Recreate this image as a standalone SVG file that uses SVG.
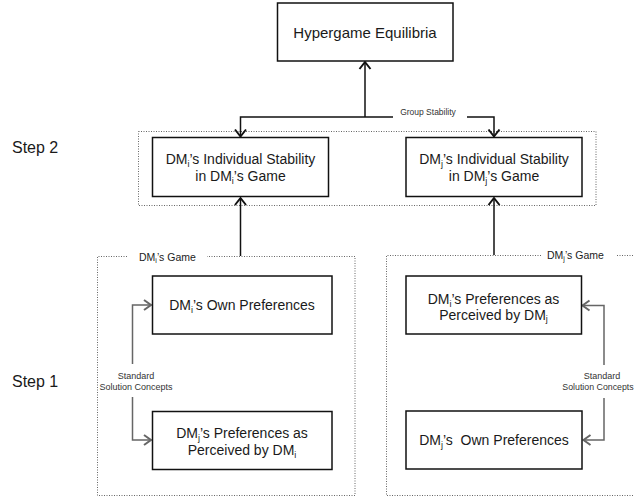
<svg xmlns="http://www.w3.org/2000/svg" width="634" height="499" viewBox="0 0 634 499">
<style>
  .box{fill:#fff;stroke:#111;stroke-width:1.5}
  .t{font-family:"Liberation Sans",Arial,sans-serif;font-size:14px;fill:#1a1a1a;text-anchor:middle}
  .sub{font-size:9px}
  .step{font-family:"Liberation Sans",Arial,sans-serif;font-size:16px;fill:#1a1a1a}
  .small{font-family:"Liberation Sans",Arial,sans-serif;font-size:8.5px;fill:#333;text-anchor:middle}
  .lbl{font-family:"Liberation Sans",Arial,sans-serif;font-size:10.5px;fill:#222}
  .lsub{font-size:7px}
  .dot{fill:none;stroke:#666;stroke-width:1;stroke-dasharray:1 1.5}
  .blk{fill:none;stroke:#111;stroke-width:1.5}
  .gry{fill:none;stroke:#666;stroke-width:1.5}
</style>
<defs>
  <marker id="ab" markerUnits="userSpaceOnUse" markerWidth="14" markerHeight="14" refX="0" refY="0" viewBox="-9 -7 10 14" orient="auto">
    <path d="M-7,-5.5 L0,0 L-7,5.5" fill="none" stroke="#111" stroke-width="2"/>
  </marker>
  <marker id="ag" markerUnits="userSpaceOnUse" markerWidth="14" markerHeight="14" refX="0" refY="0" viewBox="-9 -7 10 14" orient="auto">
    <path d="M-7,-5 L0,0 L-7,5" fill="none" stroke="#666" stroke-width="2"/>
  </marker>
</defs>

<!-- containers -->
<g id="step2-region">
  <rect class="dot" x="138.5" y="131.5" width="457.5" height="74"/>
</g>
<g id="dmi-game">
  <path class="dot" d="M127,256.5 H97.5 V495.5 H355 V256.5 H207"/>
  <text class="lbl" x="139" y="260.5">DM<tspan class="lsub" dy="2">i</tspan><tspan dy="-2">’s Game</tspan></text>
</g>
<g id="dmj-game">
  <path class="dot" d="M541,255.5 H386.5 V495.5 H640"/>
  <path class="dot" d="M617,255.5 H640"/>
  <text class="lbl" x="547" y="259">DM<tspan class="lsub" dy="2">j</tspan><tspan dy="-2">’s Game</tspan></text>
</g>

<!-- step labels -->
<text class="step" x="12" y="153">Step 2</text>
<text class="step" x="12" y="387">Step 1</text>

<!-- connectors -->
<g id="connectors">
  <path class="blk" d="M365,117 V62" marker-end="url(#ab)"/>
  <path class="blk" d="M393,117 H240.5 V136.5" marker-end="url(#ab)"/>
  <path class="blk" d="M467,117 H494 V136.5" marker-end="url(#ab)"/>
  <text class="small" x="428" y="115">Group Stability</text>
  <path class="blk" d="M240.5,256 V198" marker-end="url(#ab)"/>
  <path class="blk" d="M494,255 V198" marker-end="url(#ab)"/>

  <path class="gry" d="M132.5,364 V305 H151" marker-end="url(#ag)"/>
  <path class="gry" d="M132.5,397 V440 H151" marker-end="url(#ag)"/>
  <text class="small" x="136" y="379" style="font-size:9px">Standard</text>
  <text class="small" x="136" y="389.5" style="font-size:9px">Solution Concepts</text>

  <path class="gry" d="M604,365 V305.5 H582.5" marker-end="url(#ag)"/>
  <path class="gry" d="M604,398 V440 H583.5" marker-end="url(#ag)"/>
  <text class="small" x="602" y="379" style="font-size:9px">Standard</text>
  <text class="small" x="598" y="390" style="font-size:8.8px">Solution Concepts</text>
</g>

<!-- nodes -->
<g id="hypergame-equilibria">
  <rect class="box" x="277.5" y="3" width="175.5" height="58"/>
  <text class="t" x="365" y="37.5" style="font-size:15px">Hypergame Equilibria</text>
</g>
<g id="dmi-individual-stability">
  <rect class="box" x="152.5" y="137.5" width="176" height="59"/>
  <text class="t" x="240.5" y="164">DM<tspan class="sub" dy="3">i</tspan><tspan dy="-3">’s Individual Stability</tspan></text>
  <text class="t" x="240.5" y="181">in DM<tspan class="sub" dy="3">i</tspan><tspan dy="-3">’s Game</tspan></text>
</g>
<g id="dmj-individual-stability">
  <rect class="box" x="406" y="137.5" width="176" height="59"/>
  <text class="t" x="494" y="164">DM<tspan class="sub" dy="3">j</tspan><tspan dy="-3">’s Individual Stability</tspan></text>
  <text class="t" x="494" y="181">in DM<tspan class="sub" dy="3">j</tspan><tspan dy="-3">’s Game</tspan></text>
</g>
<g id="dmi-own-preferences">
  <rect class="box" x="152.5" y="276" width="179.5" height="58"/>
  <text class="t" x="242" y="310">DM<tspan class="sub" dy="3">i</tspan><tspan dy="-3">’s Own Preferences</tspan></text>
</g>
<g id="dmj-preferences-perceived-by-dmi">
  <rect class="box" x="152.5" y="411.5" width="179.5" height="58"/>
  <text class="t" x="242" y="438">DM<tspan class="sub" dy="3">j</tspan><tspan dy="-3">’s Preferences as</tspan></text>
  <text class="t" x="242" y="454.5">Perceived by DM<tspan class="sub" dy="3">i</tspan></text>
</g>
<g id="dmi-preferences-perceived-by-dmj">
  <rect class="box" x="406" y="276" width="175.5" height="58"/>
  <text class="t" x="493.5" y="303.5">DM<tspan class="sub" dy="3">i</tspan><tspan dy="-3">’s Preferences as</tspan></text>
  <text class="t" x="493.5" y="320">Perceived by DM<tspan class="sub" dy="2">j</tspan></text>
</g>
<g id="dmj-own-preferences">
  <rect class="box" x="406" y="411" width="176" height="58"/>
  <text class="t" x="494" y="445" style="white-space:pre">DM<tspan class="sub" dy="3">j</tspan><tspan dy="-3">’s  Own Preferences</tspan></text>
</g>
</svg>
